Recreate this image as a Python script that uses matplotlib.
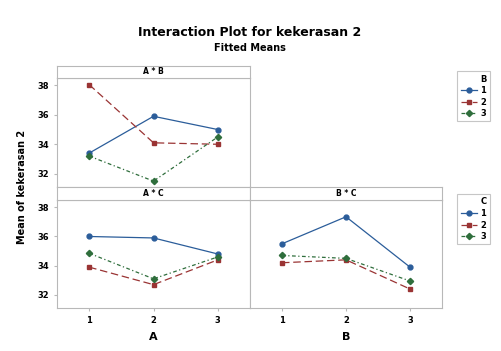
import numpy as np
import matplotlib.pyplot as plt
from matplotlib.lines import Line2D

# Fitted means for kekerasan 2
livelli = [1, 2, 3]

# A * B  (one line per level of B, x = A)
ab_b1 = [33.4, 35.9, 35.0]
ab_b2 = [38.05, 34.1, 34.0]
ab_b3 = [33.2, 31.5, 34.5]

# A * C  (one line per level of C, x = A)
ac_c1 = [36.0, 35.9, 34.8]
ac_c2 = [33.9, 32.7, 34.4]
ac_c3 = [34.85, 33.1, 34.6]

# B * C  (one line per level of C, x = B)
bc_c1 = [35.5, 37.35, 33.9]
bc_c2 = [34.2, 34.4, 32.4]
bc_c3 = [34.7, 34.5, 32.95]

blu = '#2b5d9a'
rosso = '#9a3434'
verde = '#2f6e3c'
grigio = '#b8b8b8'
stili = [
    dict(color=blu, ls='-', marker='o', ms=3.5),
    dict(color=rosso, ls=(0, (6, 3)), marker='s', ms=3.5),
    dict(color=verde, ls=(0, (3, 2, 1, 2)), marker='D', ms=3.2),
]

W, H = 501, 351
fig = plt.figure(figsize=(W / 100, H / 100), dpi=100)
fig.patch.set_facecolor('white')


def box(x0, y0, x1, y1):
    # pixel box (top-left origin) -> figure fraction rect
    return [x0 / W, 1 - y1 / H, (x1 - x0) / W, (y1 - y0) / H]


def pannello(rect, serie, yticks=True, xticks=True, xlabel=None):
    ax = fig.add_axes(rect)
    for vals, st in zip(serie, stili):
        ax.plot(livelli, vals, lw=0.9, mec=st['color'], **st)
    ax.set_xlim(0.5, 3.5)
    ax.set_ylim(31.1, 38.5)
    ax.set_yticks([32, 34, 36, 38])
    ax.set_xticks(livelli)
    for s in ax.spines.values():
        s.set_color(grigio)
        s.set_linewidth(0.8)
    ax.tick_params(length=2, color=grigio, labelsize=6)
    for t in ax.get_xticklabels() + ax.get_yticklabels():
        t.set_fontweight('bold')
    if not yticks:
        ax.tick_params(left=False, labelleft=False)
    if not xticks:
        ax.tick_params(bottom=False, labelbottom=False)
    if xlabel:
        ax.set_xlabel(xlabel, fontsize=8, fontweight='bold', labelpad=5)
    return ax


def striscia(rect, testo):
    ax = fig.add_axes(rect)
    ax.set_xticks([])
    ax.set_yticks([])
    for s in ax.spines.values():
        s.set_color(grigio)
        s.set_linewidth(0.8)
    ax.text(0.5, 0.5, testo, ha='center', va='center', fontsize=5.5, fontweight='bold')


pannello(box(57, 78, 250, 187), [ab_b1, ab_b2, ab_b3], xticks=False)
striscia(box(57, 66, 250, 78), 'A * B')

pannello(box(57, 200, 250, 308), [ac_c1, ac_c2, ac_c3], xlabel='A')
striscia(box(57, 187, 250, 200), 'A * C')

pannello(box(250, 200, 442, 308), [bc_c1, bc_c2, bc_c3], yticks=False, xlabel='B')
striscia(box(250, 187, 442, 200), 'B * C')

fig.text(250 / W, 1 - 33 / H, 'Interaction Plot for kekerasan 2', ha='center', va='center',
         fontsize=9, fontweight='bold')
fig.text(250 / W, 1 - 48 / H, 'Fitted Means', ha='center', va='center',
         fontsize=7, fontweight='bold')
fig.text(22 / W, 1 - 187 / H, 'Mean of kekerasan 2', rotation=90, ha='center', va='center',
         fontsize=7, fontweight='bold')

maniglie = [Line2D([], [], lw=0.9, mec=st['color'], **st) for st in stili]
for titolo, ytop in [('B', 67), ('C', 190)]:
    leg = fig.legend(maniglie, ['1', '2', '3'], title=titolo, loc='upper left',
                     bbox_to_anchor=(453 / W, 1 - ytop / H), fontsize=6,
                     title_fontsize=6, handlelength=2.0, handletextpad=0.4,
                     borderpad=0.4, labelspacing=0.3, fancybox=False,
                     alignment='right')
    leg.get_frame().set_edgecolor(grigio)
    leg.get_frame().set_linewidth(0.8)
    leg.get_title().set_fontweight('bold')
    for t in leg.get_texts():
        t.set_fontweight('bold')

fig.savefig('out.png', dpi=100)
